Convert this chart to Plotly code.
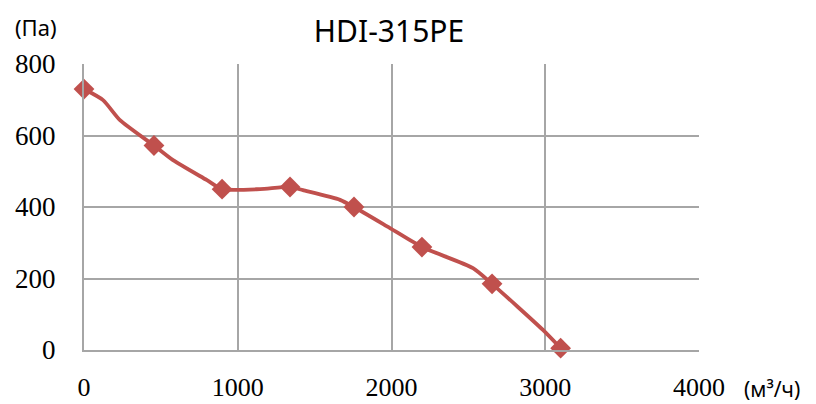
import plotly.graph_objects as go

# Curve points (line, smoothed)
flow_line = [0, 124, 234, 455, 579, 800, 898, 1145, 1340, 1424, 1665, 1756,
             1990, 2198, 2530, 2654, 2985, 3100]
pressure_line = [730, 699, 643, 572, 531, 475, 450, 450, 456, 447, 420, 400,
                 341, 288, 229, 185, 56, 5]

# Marked points
flow_marks = [0, 455, 898, 1340, 1756, 2198, 2654, 3100]
pressure_marks = [730, 572, 450, 456, 400, 288, 185, 5]

x_ticks = [0, 1000, 2000, 3000, 4000]
y_ticks = [0, 200, 400, 600, 800]

title_text = "HDI-315PE"
y_unit = "(Па)"
x_unit = "(м³/ч)"

red = "#C0504D"
grid = "#A6A6A6"

# page body has an 8px margin, so the figure starts at (8, 8)
W, H = 808, 396
OFF = 8
L, T = 84 - OFF, 64 - OFF
PW, PH = 615, 286

fig = go.Figure()
fig.add_trace(go.Scatter(x=flow_line, y=pressure_line, mode="lines",
                         line=dict(color=red, width=3.8, shape="spline", smoothing=0.6),
                         hoverinfo="skip", showlegend=False, cliponaxis=False))
fig.add_trace(go.Scatter(x=flow_marks, y=pressure_marks, mode="markers",
                         marker=dict(symbol="diamond", size=16, color=red),
                         showlegend=False, cliponaxis=False))

fig.update_layout(
    width=W, height=H,
    margin=dict(l=L, r=W - L - PW, t=T, b=H - T - PH, autoexpand=False),
    paper_bgcolor="white", plot_bgcolor="white",
    title=dict(text=title_text, x=(389 - OFF) / W, xanchor="center", y=1 - (31 - OFF) / H,
               yanchor="middle",
               font=dict(family="Noto Sans", size=30, color="#000000")),
    xaxis=dict(range=[0, 4000], tickvals=x_ticks, ticktext=[str(v) for v in x_ticks],
               showgrid=True, gridcolor=grid, gridwidth=2,
               showline=True, linecolor=grid, linewidth=2, zeroline=False,
               ticks="", ticklabelstandoff=13, automargin=False,
               tickfont=dict(family="Liberation Serif", size=26, color="#000000"),
               mirror=False, fixedrange=True),
    yaxis=dict(range=[0, 800], tickvals=y_ticks, ticktext=[str(v) for v in y_ticks],
               showgrid=True, gridcolor=grid, gridwidth=2,
               showline=True, linecolor=grid, linewidth=2, zeroline=False,
               ticks="", ticklabelstandoff=21, automargin=False,
               tickfont=dict(family="Liberation Serif", size=27, color="#000000"),
               fixedrange=True),
    annotations=[
        dict(text=y_unit, xref="paper", yref="paper", x=(36 - 84) / PW, y=1 + 37 / PH,
             xanchor="center", yanchor="middle", showarrow=False,
             font=dict(family="Noto Sans", size=22, color="#000000")),
        dict(text=x_unit, xref="paper", yref="paper", x=(772 - 84) / PW, y=-39 / PH,
             xanchor="center", yanchor="middle", showarrow=False,
             font=dict(family="Noto Sans", size=21, color="#000000")),
    ],
)

fig.write_html("out.html")
